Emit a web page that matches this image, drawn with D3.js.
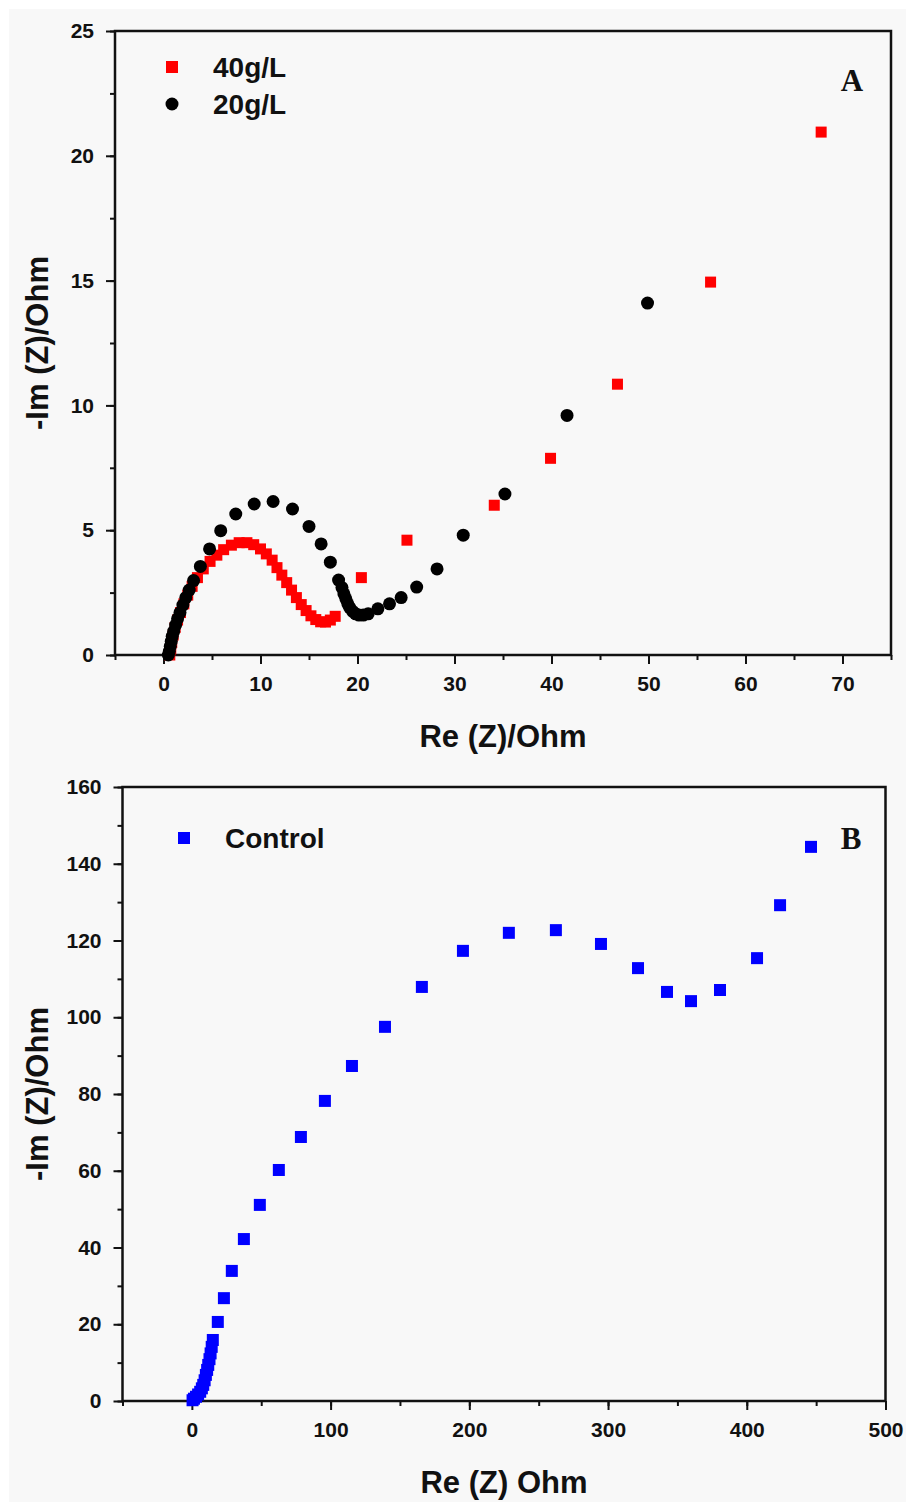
<!DOCTYPE html>
<html lang="en">
<head>
<meta charset="UTF-8">
<title>Nyquist plots</title>
<script src="https://d3js.org/d3.v7.min.js"></script>
<style>
    body { margin: 0; background: #fff; }
    svg { display: block; }
    text { font-family: "Liberation Sans", Arial, sans-serif; font-weight: bold; fill: #111; }
    .tick text { font-size: 21px; }
    .axis-label { font-size: 31px; }
    .legend-text { font-size: 28px; }
    .panel-tag { font-family: "Liberation Serif", "Times New Roman", serif; font-size: 31px; }
</style>
</head>
<body>
<svg id="svg" width="906" height="1502"></svg>
<script>
// panel A, 40 g/L (red squares)
const red40 = [
    [0.65, 0], [0.75, 0.25], [0.85, 0.5], [1.0, 0.8], [1.2, 1.1], [1.45, 1.4], [1.75, 1.7],
    [2.1, 2.05], [2.5, 2.4], [2.95, 2.75], [3.5, 3.1], [4.1, 3.45], [4.8, 3.75], [5.5, 4.0],
    [6.2, 4.22], [7.0, 4.4], [7.8, 4.5], [8.6, 4.5], [9.3, 4.42], [10.0, 4.25], [10.6, 4.05],
    [11.2, 3.8], [11.7, 3.5], [12.2, 3.2], [12.7, 2.9], [13.2, 2.6], [13.7, 2.3], [14.2, 2.02],
    [14.7, 1.78], [15.2, 1.57], [15.7, 1.42], [16.2, 1.33], [16.7, 1.32], [17.2, 1.4], [17.7, 1.55],
    [20.4, 3.1], [25.1, 4.6], [34.1, 6.0], [39.9, 7.88], [46.8, 10.85], [56.4, 14.94], [67.8, 20.95]
];
// panel A, 20 g/L (black circles)
const black20 = [
    [0.5, 0], [0.6, 0.15], [0.7, 0.35], [0.8, 0.55], [0.9, 0.75], [1.05, 0.95], [1.25, 1.2],
    [1.45, 1.45], [1.7, 1.7], [2.0, 2.0], [2.3, 2.3], [2.65, 2.6], [3.1, 2.98], [3.8, 3.55],
    [4.75, 4.25], [5.9, 4.98], [7.45, 5.65], [9.35, 6.05], [11.3, 6.15], [13.3, 5.85], [15.0, 5.15],
    [16.25, 4.45], [17.2, 3.72], [18.05, 3.0], [18.4, 2.7], [18.6, 2.45], [18.8, 2.25], [19.0, 2.05],
    [19.2, 1.9], [19.5, 1.75], [19.8, 1.65], [20.15, 1.6], [20.6, 1.6], [21.1, 1.65], [22.1, 1.85],
    [23.3, 2.05], [24.5, 2.3], [26.1, 2.72], [28.2, 3.45], [30.9, 4.8], [35.2, 6.45], [41.6, 9.6],
    [49.9, 14.1]
];
// panel B, control (blue squares)
const control = [
    [0.5, 0.2], [1.5, 0.6], [3, 1.1], [4.5, 1.7], [6, 2.4], [7.2, 3.3], [8.2, 4.2], [9.2, 5.4],
    [10.1, 6.8], [11, 8.1], [11.8, 9.4], [12.7, 10.9], [13.5, 12.4], [14.3, 14.1], [15.1, 15.9],
    [18.7, 20.6], [23.1, 26.8], [28.8, 33.9], [37.5, 42.2], [49.0, 51.1], [62.7, 60.2], [78.6, 68.8],
    [95.9, 78.2], [115.4, 87.3], [139.2, 97.5], [165.8, 107.9], [195.4, 117.3], [228.5, 122.0],
    [262.4, 122.7], [294.9, 119.1], [321.6, 112.8], [342.5, 106.6], [359.8, 104.2], [380.7, 107.1],
    [407.4, 115.4], [424, 129.2], [446.3, 144.4]
];

// tick values
const aXTicks = [0, 10, 20, 30, 40, 50, 60, 70];
const aYTicks = [0, 5, 10, 15, 20, 25];
const bXTicks = [0, 100, 200, 300, 400, 500];
const bYTicks = [0, 20, 40, 60, 80, 100, 120, 140, 160];

const svg = d3.select("#svg");

// light grey figure background
svg.append("rect")
    .attr("x", 9).attr("y", 9)
    .attr("width", 897).attr("height", 1493)
    .attr("fill", "#f8f8f8");

function drawPanel(p) {
    const x = d3.scaleLinear().domain(p.xDomain).range([p.left, p.right]);
    const y = d3.scaleLinear().domain(p.yDomain).range([p.bottom, p.top]);

    // minor ticks
    const xMinor = d3.axisBottom(x).tickValues(d3.range(p.xDomain[0], p.xDomain[1] + 0.001, p.xMinorStep))
        .tickSize(5).tickFormat("");
    const yMinor = d3.axisLeft(y).tickValues(d3.range(p.yDomain[0], p.yDomain[1] + 0.001, p.yMinorStep))
        .tickSize(5).tickFormat("");
    svg.append("g").attr("transform", `translate(0,${p.bottom})`).call(xMinor);
    svg.append("g").attr("transform", `translate(${p.left},0)`).call(yMinor);

    // major ticks
    svg.append("g")
        .attr("transform", `translate(0,${p.bottom})`)
        .call(d3.axisBottom(x).tickValues(p.xTicks).tickSize(9).tickPadding(12));
    svg.append("g")
        .attr("transform", `translate(${p.left},0)`)
        .call(d3.axisLeft(y).tickValues(p.yTicks).tickSize(9).tickPadding(12));

    svg.selectAll(".domain").remove();
    svg.selectAll(".tick line").attr("stroke", "#111").attr("stroke-width", 2);

    // frame
    svg.append("rect")
        .attr("x", p.left).attr("y", p.top)
        .attr("width", p.right - p.left).attr("height", p.bottom - p.top)
        .attr("fill", "none").attr("stroke", "#111").attr("stroke-width", 2.5);

    // data
    p.series.forEach(s => {
        const g = svg.append("g");
        if (s.shape === "square") {
            g.selectAll("rect").data(s.data).enter().append("rect")
                .attr("x", d => x(d[0]) - s.size / 2)
                .attr("y", d => y(d[1]) - s.size / 2)
                .attr("width", s.size).attr("height", s.size)
                .attr("fill", s.color);
        } else {
            g.selectAll("circle").data(s.data).enter().append("circle")
                .attr("cx", d => x(d[0])).attr("cy", d => y(d[1]))
                .attr("r", s.size / 2)
                .attr("fill", s.color);
        }
    });

    // legend
    p.legend.forEach((l, i) => {
        const ly = p.legendY + i * 37;
        if (l.shape === "square") {
            svg.append("rect").attr("x", p.legendX - 6).attr("y", ly - 6)
                .attr("width", 12).attr("height", 12).attr("fill", l.color);
        } else {
            svg.append("circle").attr("cx", p.legendX).attr("cy", ly).attr("r", 6.5).attr("fill", l.color);
        }
        svg.append("text").attr("class", "legend-text")
            .attr("x", p.legendX + 41).attr("y", ly + 10)
            .text(l.label);
    });

    svg.append("text").attr("class", "panel-tag")
        .attr("x", p.tagX).attr("y", p.tagY)
        .attr("text-anchor", "middle")
        .text(p.tag);

    // axis labels
    svg.append("text").attr("class", "axis-label")
        .attr("x", (p.left + p.right) / 2).attr("y", p.bottom + 92)
        .attr("text-anchor", "middle")
        .text(p.xLabel);
    svg.append("text").attr("class", "axis-label")
        .attr("transform", `translate(48,${(p.top + p.bottom) / 2}) rotate(-90)`)
        .attr("text-anchor", "middle")
        .text(p.yLabel);
}

drawPanel({
    left: 115, right: 891, top: 31, bottom: 655,
    xDomain: [-5, 75], yDomain: [0, 25],
    xTicks: aXTicks, yTicks: aYTicks, xMinorStep: 5, yMinorStep: 2.5,
    series: [
        { data: red40, shape: "square", color: "#ff0000", size: 11 },
        { data: black20, shape: "circle", color: "#000000", size: 13 }
    ],
    legend: [
        { label: "40g/L", shape: "square", color: "#ff0000" },
        { label: "20g/L", shape: "circle", color: "#000000" }
    ],
    legendX: 172, legendY: 67,
    tag: "A", tagX: 852, tagY: 91,
    xLabel: "Re (Z)/Ohm", yLabel: "-Im (Z)/Ohm"
});

drawPanel({
    left: 122.5, right: 885.5, top: 787, bottom: 1401,
    xDomain: [-50, 500], yDomain: [0, 160],
    xTicks: bXTicks, yTicks: bYTicks, xMinorStep: 50, yMinorStep: 10,
    series: [
        { data: control, shape: "square", color: "#0000ff", size: 12 }
    ],
    legend: [
        { label: "Control", shape: "square", color: "#0000ff" }
    ],
    legendX: 184, legendY: 838,
    tag: "B", tagX: 851, tagY: 849,
    xLabel: "Re (Z) Ohm", yLabel: "-Im (Z)/Ohm"
});
</script>
</body>
</html>
